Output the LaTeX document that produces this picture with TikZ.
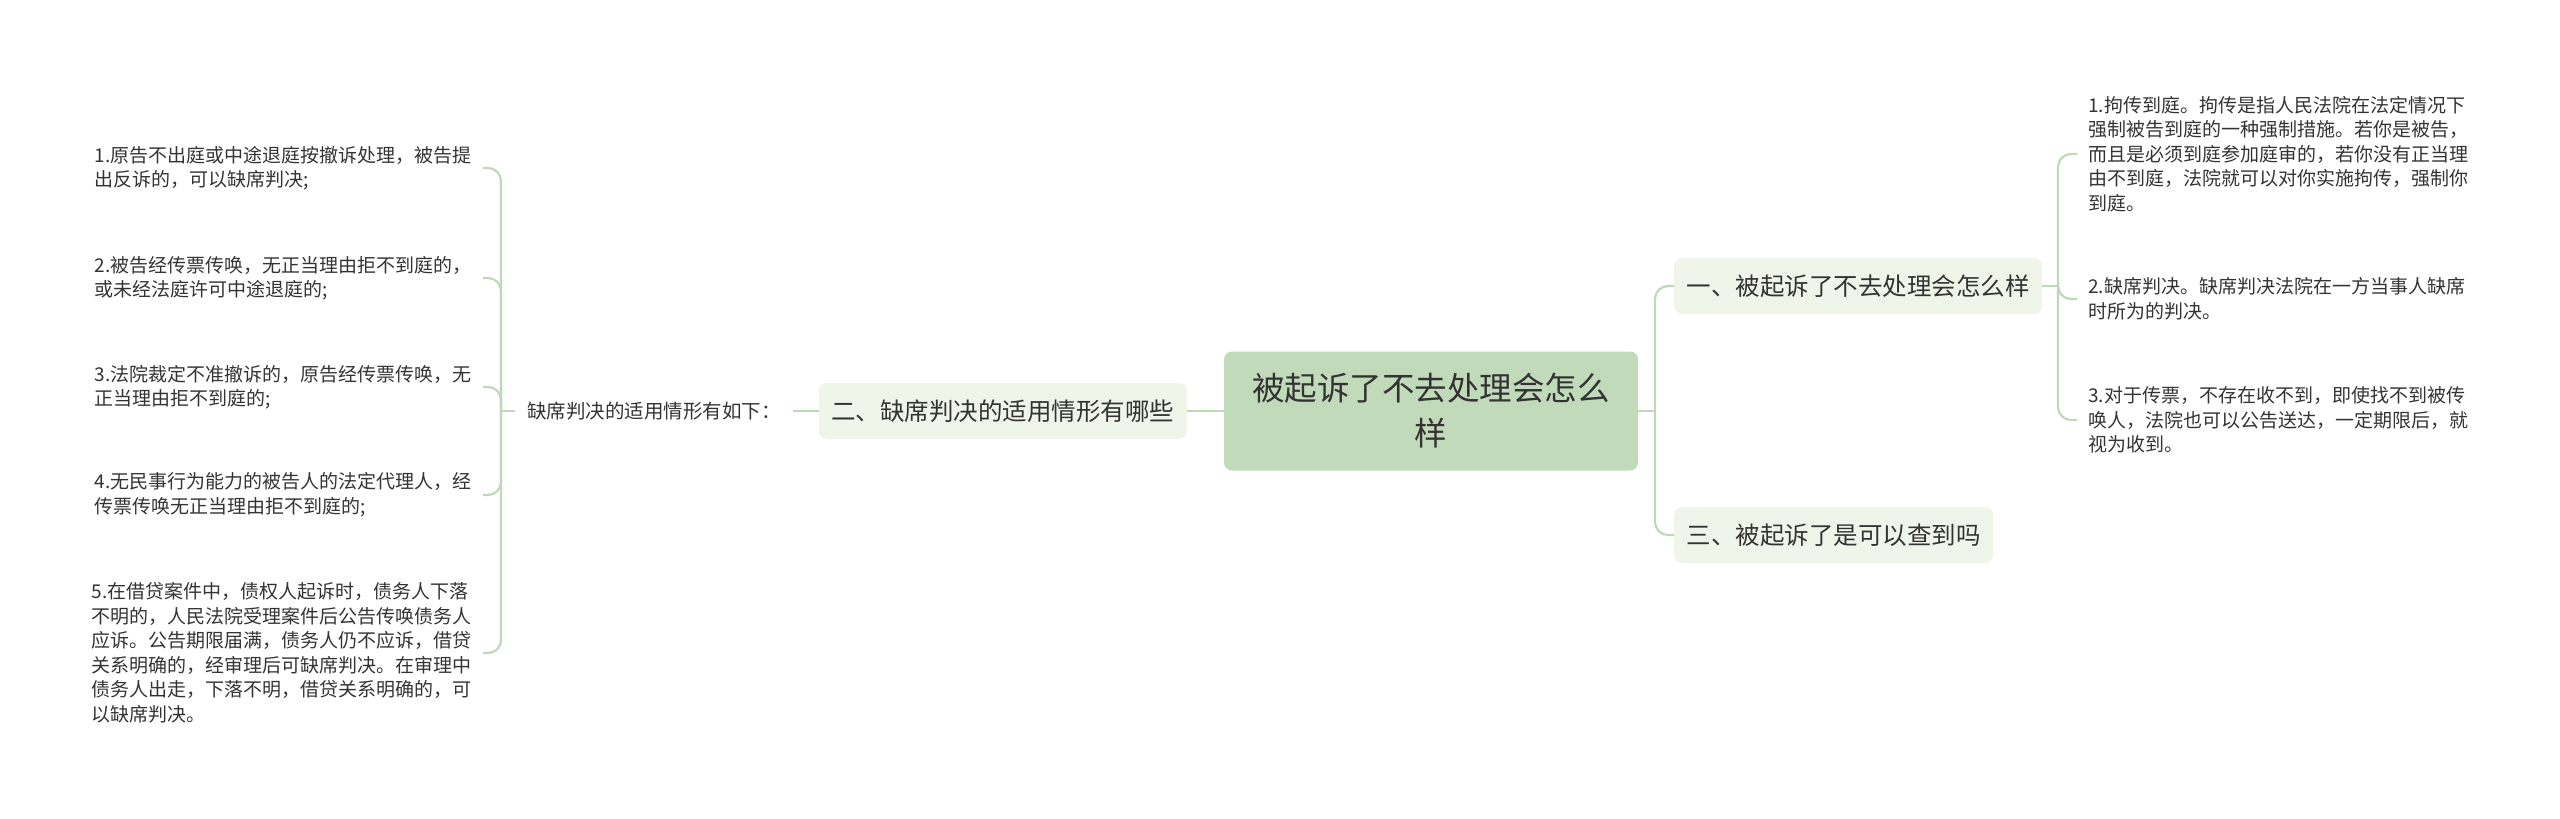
\documentclass[tikz,border=0pt]{standalone}
\usepackage{fontspec}
\setmainfont{Noto Sans CJK SC}
\usetikzlibrary{positioning}
\definecolor{rootgreen}{RGB}{193,218,185}
\definecolor{branchgreen}{RGB}{239,245,232}
\definecolor{linkgreen}{RGB}{192,216,186}
\definecolor{inkgray}{RGB}{51,51,51}
\tikzset{
    rootbox/.style={rectangle, rounded corners=8pt, fill=rootgreen, text=inkgray, align=center, minimum width=414pt, minimum height=119pt, font=\fontsize{32.5}{45}\selectfont},
    branchbox/.style={rectangle, rounded corners=8pt, fill=branchgreen, text=inkgray, inner xsep=12.5pt, minimum height=56pt, font=\fontsize{24.5}{30}\selectfont},
    plaintext/.style={rectangle, text=inkgray, inner xsep=11pt, inner ysep=2pt, align=left, font=\fontsize{19}{24.5}\selectfont},
    link/.style={draw=linkgreen, line width=2.2pt, rounded corners=13pt},
}
\begin{document}
\begin{tikzpicture}[x=1pt, y=-1pt]
    \useasboundingbox (0,0) rectangle (2560,819);
    % centre and main branches
    \node[rootbox] (root) at (1431,411) {被起诉了不去处理会怎么\\样};
    \node[branchbox, anchor=west] (one) at (1674,286) {一、被起诉了不去处理会怎么样};
    \node[branchbox, anchor=west] (three) at (1674,535) {三、被起诉了是可以查到吗};
    \node[branchbox, anchor=east] (two) at (1187,411) {二、缺席判决的适用情形有哪些};
    \node[plaintext, anchor=west, inner xsep=12pt, font=\fontsize{19.5}{24.5}\selectfont] (intro) at (515,411) {缺席判决的适用情形有如下：};
    % left leaves
    \node[plaintext, anchor=east] (l1) at (483,168) {1.原告不出庭或中途退庭按撤诉处理，被告提\\出反诉的，可以缺席判决;};
    \node[plaintext, anchor=east] (l2) at (483,278) {2.被告经传票传唤，无正当理由拒不到庭的，\\或未经法庭许可中途退庭的;};
    \node[plaintext, anchor=east] (l3) at (483,387) {3.法院裁定不准撤诉的，原告经传票传唤，无\\正当理由拒不到庭的;};
    \node[plaintext, anchor=east] (l4) at (483,495) {4.无民事行为能力的被告人的法定代理人，经\\传票传唤无正当理由拒不到庭的;};
    \node[plaintext, anchor=east] (l5) at (483,653) {5.在借贷案件中，债权人起诉时，债务人下落\\不明的，人民法院受理案件后公告传唤债务人\\应诉。公告期限届满，债务人仍不应诉，借贷\\关系明确的，经审理后可缺席判决。在审理中\\债务人出走，下落不明，借贷关系明确的，可\\以缺席判决。};
    % right leaves
    \node[plaintext, anchor=west] (r1) at (2077,154) {1.拘传到庭。拘传是指人民法院在法定情况下\\强制被告到庭的一种强制措施。若你是被告，\\而且是必须到庭参加庭审的，若你没有正当理\\由不到庭，法院就可以对你实施拘传，强制你\\到庭。};
    \node[plaintext, anchor=west] (r2) at (2077,299) {2.缺席判决。缺席判决法院在一方当事人缺席\\时所为的判决。};
    \node[plaintext, anchor=west] (r3) at (2077,420) {3.对于传票，不存在收不到，即使找不到被传\\唤人，法院也可以公告送达，一定期限后，就\\视为收到。};
    % junctions
    \coordinate (jroot) at (1655,411);
    \coordinate (jone) at (2058,286);
    \coordinate (jintro) at (501,411);
    % connectors
    \draw[link] (root.east) -- (jroot);
    \foreach \b in {one, three} {
        \draw[link] (jroot) |- (\b.west);
    }
    \draw[link] (two.east) -- (root.west);
    \draw[link] (intro.east) -- (two.west);
    \draw[link] (intro.west) -- (jintro);
    \foreach \l in {l1, l2, l3, l4, l5} {
        \draw[link] (jintro) |- (\l.east);
    }
    \draw[link] (one.east) -- (jone);
    \foreach \r in {r1, r2, r3} {
        \draw[link] (jone) |- (\r.west);
    }
\end{tikzpicture}
\end{document}
